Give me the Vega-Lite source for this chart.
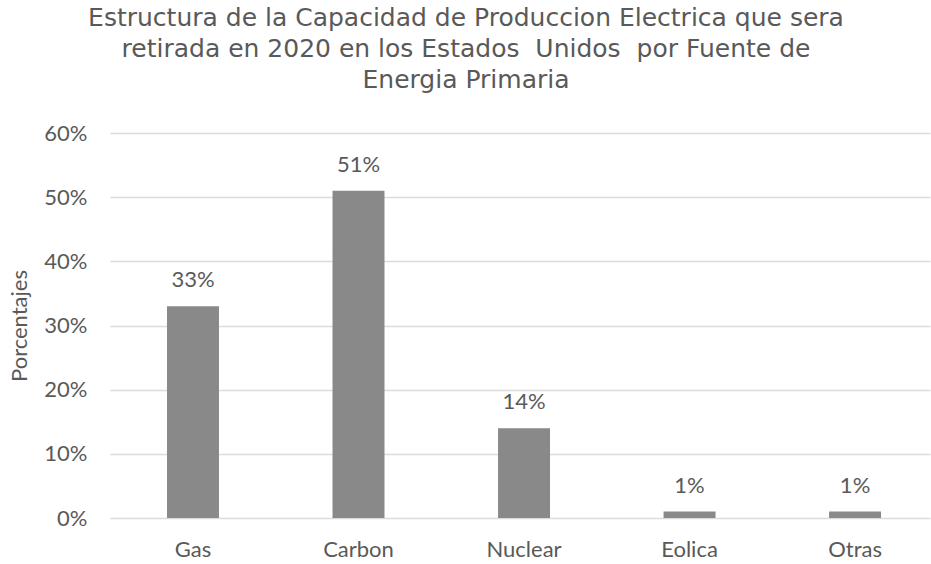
{
  "$schema": "https://vega.github.io/schema/vega-lite/v6.json",
  "width": 820,
  "height": 385,
  "autosize": {"type": "none"},
  "padding": {"left": 110, "top": 133, "right": 1, "bottom": 46},
  "background": "white",
  "title": {
    "text": ["Estructura de la Capacidad de Produccion Electrica que sera", "retirada en 2020 en los Estados \u00a0Unidos \u00a0por Fuente de", "Energia Primaria"],
    "font": "DejaVu Sans",
    "fontSize": 25,
    "fontWeight": "normal",
    "color": "#595959",
    "lineHeight": 31,
    "anchor": "middle",
    "dx": -54,
    "offset": 29
  },
  "data": {
    "values": [
      {"fuente": "Gas", "valor": 0.33, "etiqueta": "33%"},
      {"fuente": "Carbon", "valor": 0.51, "etiqueta": "51%"},
      {"fuente": "Nuclear", "valor": 0.14, "etiqueta": "14%"},
      {"fuente": "Eolica", "valor": 0.01, "etiqueta": "1%"},
      {"fuente": "Otras", "valor": 0.01, "etiqueta": "1%"}
    ]
  },
  "encoding": {
    "x": {
      "field": "fuente",
      "type": "nominal",
      "sort": null,
      "scale": {"paddingInner": 0.686, "paddingOuter": 0.32, "align": 0.538},
      "axis": {
        "title": null,
        "labelAngle": 0,
        "labelFont": "Lato",
        "labelFontSize": 22,
        "labelColor": "#595959",
        "labelPadding": 21,
        "ticks": false,
        "domain": false,
        "grid": false
      }
    },
    "y": {
      "field": "valor",
      "type": "quantitative",
      "scale": {"domain": [0, 0.6]},
      "axis": {
        "title": "Porcentajes",
        "titleFont": "Lato",
        "titleFontSize": 22,
        "titleFontWeight": "normal",
        "titleColor": "#595959",
        "titlePadding": 12,
        "format": ".0%",
        "values": [0, 0.1, 0.2, 0.3, 0.4, 0.5, 0.6],
        "labelFont": "Lato",
        "labelFontSize": 22,
        "labelColor": "#595959",
        "labelPadding": 23,
        "ticks": false,
        "domain": false,
        "grid": true,
        "gridColor": "#dcdcdc",
        "gridWidth": 1.5
      }
    }
  },
  "layer": [
    {"mark": {"type": "bar", "color": "#898989"}},
    {
      "mark": {"type": "text", "baseline": "alphabetic", "dy": -19, "font": "Lato", "fontSize": 22, "color": "#595959"},
      "encoding": {"text": {"field": "etiqueta"}}
    }
  ],
  "config": {"view": {"stroke": null}}
}
